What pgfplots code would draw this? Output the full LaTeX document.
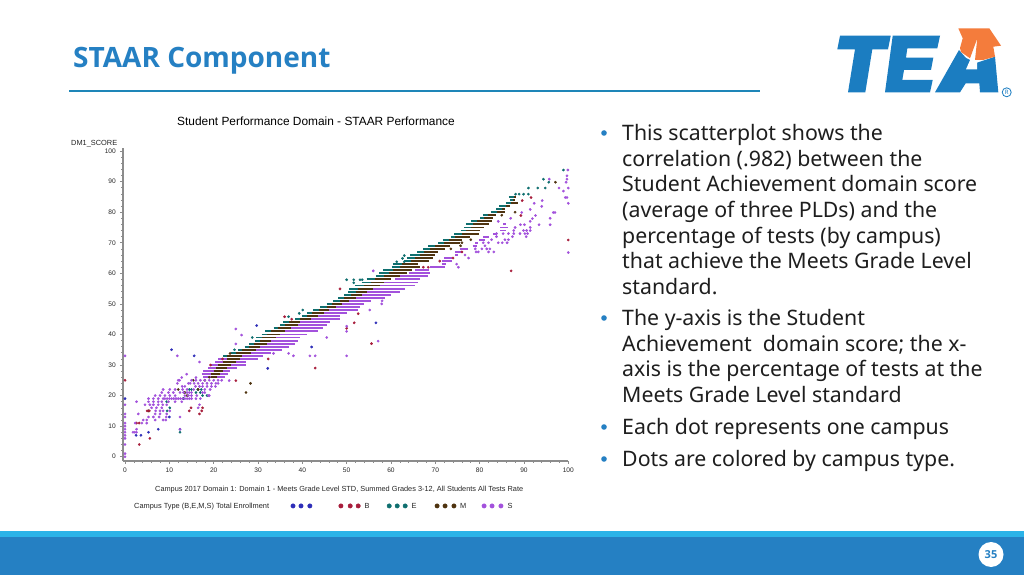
\documentclass[border=0pt]{standalone}
\usepackage{fontspec}
\setmainfont{Noto Sans}
\newfontfamily\chartfont{Liberation Sans}
\newfontfamily\headfont{Open Sans}
\usepackage{pgfplots}
\usepackage{pgfplotstable}
\pgfplotsset{compat=1.18}

\definecolor{slideblue}{HTML}{2580C3}
\definecolor{stripblue}{HTML}{2BB3E8}
\definecolor{rulecol}{HTML}{1E86B8}
\definecolor{logoorange}{HTML}{F47C3C}
\definecolor{logoblue}{HTML}{1B7DC1}
\definecolor{bodytext}{HTML}{1E1E1E}
\definecolor{axisgray}{HTML}{8C8C8C}
\definecolor{dotblue}{HTML}{2E2EB8}
\definecolor{dotred}{HTML}{A81E3C}
\definecolor{dotteal}{HTML}{0F6F6F}
\definecolor{dotbrown}{HTML}{4F3410}
\definecolor{dotpurple}{HTML}{A352DC}

% dense rows of the band: start and width of each colour's run on one score value
\pgfplotstableread{
y  ta    tw    ba    bw    pa    pw
33 22.2  0.8   23.0  3.5   24.0  7.2
34 24.0  1.0   25.0  3.5   27.0  6.0
35 25.5  1.0   26.5  3.0   29.0  6.5
36 27.0  1.0   28.0  2.5   30.0  6.9
37 28.0  1.0   29.0  3.0   31.0  7.4
38 29.3  1.2   30.5  2.5   32.0  7.0
39 29.6  1.4   31.0  3.0   33.0  6.5
40 30.8  1.2   32.0  3.0   34.0  7.0
41 31.6  1.4   33.0  3.0   35.0  8.6
42 33.5  1.0   34.5  3.0   37.0  7.7
43 35.0  1.0   36.0  3.0   38.0  7.5
44 35.7  1.3   37.0  2.5   39.0  7.3
45 38.4  1.1   39.5  2.5   41.0  7.5
46 39.9  1.1   41.0  2.5   43.0  5.5
47 41.0  1.2   42.2  2.8   44.0  6.0
48 42.5  1.2   43.7  2.3   45.5  7.1
49 44.0  1.5   45.5  2.0   47.0  6.0
50 45.5  1.3   46.8  2.2   48.5  5.5
51 47.0  1.5   48.5  2.0   50.0  5.5
52 48.1  1.4   49.5  2.5   51.5  7.1
53 49.5  1.5   51.0  2.5   53.0  7.0
54 50.4  1.6   52.0  2.5   54.0  8.0
55 50.6  1.9   52.5  3.5   55.5  7.7
56 51.9  2.1   54.0  3.5   57.0  8.4
57 53.4  2.1   55.5  3.0   58.0  8.0
58 54.5  2.0   56.5  3.5   61.0  5.5
59 56.6  1.9   58.5  3.5   62.0  6.4
60 57.4  2.1   59.5  4.0   64.0  4.8
61 58.3  2.2   60.5  4.2   65.5  3.0
62 60.2  1.8   62.0  4.5   68.8  3.4
63 60.4  2.1   62.5  3.7   71.4  1.1
64 63.0  1.5   64.5  4.0   71.4  2.3
65 63.5  2.0   65.5  4.0   72.0  1.7
66 64.4  2.1   66.5  3.4   74.4  0.8
67 65.9  1.6   67.5  3.2   74.4  1.9
68 67.3  1.5   68.8  3.4   75.5  1.9
69 68.4  1.6   70.0  3.3   78.4  1.1
70 70.7  1.3   72.0  3.6   79.0  0.6
71 71.7  1.3   73.0  3.0   79.9  1.3
72 73.5  1.0   74.5  3.3   80.8  1.2
73 74.3  1.7   76.0  3.9   83.0  1.0
74 75.7  1.3   77.0  3.0   84.6  1.3
75 76.5  1.5   78.0  3.0   84.7  1.8
76 76.9  1.6   78.5  3.5   85.3  0.6
}\bandrows

\pgfplotstableread{
y  ba    bw    pa    pw
26 19.5  1.3   17.7  4.9
27 19.5  2.0   17.3  6.0
28 20.0  2.0   17.7  6.0
29 20.5  2.5   18.8  6.4
30 21.0  3.0   19.5  7.9
31 22.0  3.0   20.3  7.1
32 23.0  3.0   21.0  9.0
}\lowrows

\pgfplotstableread{
y  ta    tw    ba    bw
77 78.0  1.5   79.5  3.2
78 80.1  0.9   81.0  1.9
79 80.7  1.1   81.8  2.0
80 82.5  1.5   84.0  1.7
81 83.8  1.2   85.0  0.7
82 84.4  1.6   86.0  0.8
83 85.9  1.1   87.0  1.6
84 86.8  0.7   87.5  0.5
85 86.6  1.2   87.8  0.5
}\toprows

\pgfplotsset{
    runs/.style 2 args={#1,line width=1.9pt,-,mark=none,forget plot,quiver={u=\thisrow{#2},v=0}},
    dots/.style={only marks,mark=*,mark size=1.15pt,#1,mark options={draw=none,fill=#1}},
    keydots/.style={only marks,mark=*,mark size=2.2pt,#1,mark options={draw=none,fill=#1}},
}

\newcommand\bodyline[2]{\node[anchor=base west,inner sep=0pt,font=\fontsize{21.3}{24}\selectfont,text=bodytext] at (622,#1) {#2};}
\newcommand\bodybullet[1]{\fill[slideblue] (604,#1) circle (2.8);}

\begin{document}
\begin{tikzpicture}
\useasboundingbox (0,0) rectangle (1024pt,575pt);
\fill[white] (0,0) rectangle (1024pt,575pt);

\begin{scope}[x=1pt,y=-1pt,yshift=575pt]
% slide frame
\fill[stripblue] (0,531) rectangle (1024,538);
\fill[slideblue] (0,537) rectangle (1024,575);
\fill[white] (991,554.5) circle (12.5);
\node[font=\headfont\bfseries\fontsize{11}{13}\selectfont,text=slideblue] at (991,554.5) {35};
\node[anchor=base west,inner sep=0pt,font=\headfont\bfseries\fontsize{28}{32}\selectfont,text=slideblue] at (73,68) {STAAR Component};
\fill[rulecol] (69,90) rectangle (760,92);

% logo
\fill[logoblue] (840,35.7) -- (890.7,35.7) -- (888,49.3) -- (872.3,49.3) -- (865.3,92.3) -- (848,92.3) -- (855,49.3) -- (837.3,49.3) -- cycle;
\fill[logoblue] (892.7,35.7) -- (940,35.7) -- (937.3,48.3) -- (907.3,48.3) -- (906,57.7) -- (933.3,57.7) -- (931,70) -- (904,70) -- (902.3,80) -- (932.7,80) -- (930,92.3) -- (885,92.3) -- cycle;
\fill[logoblue] (935,92.3) -- (959,50) -- (966,58) -- (976,63) -- (995,56.7) -- (998.3,92.3) -- (980,92.3) -- (979.3,83.3) -- (965.7,83.3) -- (960,92.3) -- cycle;
\fill[white] (966,69.3) -- (977,69.3) -- (977,58) -- (971,58) -- cycle;
\fill[logoorange] (958.3,28.3) -- (989.3,28.3) -- (1001,45.7) -- (993.3,46.7) -- (995,56.7) -- (983,60) -- (975,60) -- (977.3,38.3) -- (970,58.3) -- (961,52) -- (960,48) -- (962.7,38.3) -- cycle;
\draw[logoblue,line width=0.8pt] (1006.7,92.3) circle (4.5);
\node[font=\bfseries\fontsize{6}{7}\selectfont,text=logoblue,inner sep=0pt] at (1006.7,92.3) {R};

% bullet text
\bodybullet{133}
\bodyline{141}{This scatterplot shows the}
\bodyline{166.5}{correlation (.982) between the}
\bodyline{192}{Student Achievement domain score}
\bodyline{218}{(average of three PLDs) and the}
\bodyline{243.5}{percentage of tests (by campus)}
\bodyline{269}{that achieve the Meets Grade Level}
\bodyline{294.5}{standard.}
\bodybullet{318}
\bodyline{326}{The y-axis is the Student}
\bodyline{351.5}{Achievement\ \ domain score; the x-}
\bodyline{377}{axis is the percentage of tests at the}
\bodyline{403}{Meets Grade Level standard}
\bodybullet{427}
\bodyline{435}{Each dot represents one campus}
\bodybullet{459}
\bodyline{467}{Dots are colored by campus type.}

% chart texts
\node[font=\chartfont\fontsize{11.9}{13}\selectfont,anchor=base west,inner sep=0pt] at (177,126) {Student Performance Domain - STAAR Performance};
\node[font=\chartfont\fontsize{7.4}{9}\selectfont,anchor=base west,inner sep=0pt,text=black!85] at (71,145.5) {DM1\_SCORE};
\node[font=\chartfont\fontsize{7.36}{9}\selectfont,anchor=base west,inner sep=0pt,text=black!85] at (155,492) {Campus 2017 Domain 1: Domain 1 - Meets Grade Level STD, Summed Grades 3-12, All Students All Tests Rate};
\node[font=\chartfont\fontsize{7.4}{9}\selectfont,anchor=base west,inner sep=0pt,text=black!85] at (134,509) {Campus Type (B,E,M,S) Total Enrollment};
\node[font=\chartfont\fontsize{7.4}{9}\selectfont,anchor=base west,inner sep=0pt,text=black!85] at (364.5,509) {B};
\node[font=\chartfont\fontsize{7.4}{9}\selectfont,anchor=base west,inner sep=0pt,text=black!85] at (411.5,509) {E};
\node[font=\chartfont\fontsize{7.4}{9}\selectfont,anchor=base west,inner sep=0pt,text=black!85] at (460,509) {M};
\node[font=\chartfont\fontsize{7.4}{9}\selectfont,anchor=base west,inner sep=0pt,text=black!85] at (507.5,509) {S};
\end{scope}

\begin{axis}[
    at={(122.8pt,114pt)},
    anchor=south west,
    scale only axis,
    width=445.5pt,
    height=313pt,
    xmin=-0.5, xmax=100,
    ymin=-1.4, ymax=101,
    clip=false,
    axis lines=left,
    axis line style={-,axisgray,line width=1.5pt},
    xtick={0,10,...,100},
    ytick={0,10,...,100},
    minor tick num=4,
    tick align=outside,
    tick style={axisgray,line width=0.6pt},
    major tick length=3pt,
    minor tick length=1.8pt,
    tick label style={font=\chartfont\fontsize{6.6}{8}\selectfont,text=black!85},
    /pgf/number format/assume math mode=true,
    xticklabel style={yshift=-0.5pt},
    yticklabel style={xshift=-0.5pt},
]
% dense rows
\addplot[runs={dotteal}{tw}] table[x=ta,y=y] {\bandrows};
\addplot[runs={dotteal}{tw}] table[x=ta,y=y] {\toprows};
\addplot[runs={dotpurple}{pw}] table[x=pa,y=y] {\lowrows};
\addplot[runs={dotpurple}{pw}] table[x=pa,y=y] {\bandrows};
\addplot[runs={dotbrown}{bw}] table[x=ba,y=y] {\lowrows};
\addplot[runs={dotbrown}{bw}] table[x=ba,y=y] {\bandrows};
\addplot[runs={dotbrown}{bw}] table[x=ba,y=y] {\toprows};
% scattered campuses
\addplot[dots=dotteal] coordinates {
(12.4,8) (98.9,93.8) (94.4,90.8) (95.6,89.8) (91,87.9) (93.1,87.9) (94.8,87.9)
(88.1,85.9) (88.9,85.9) (89.9,85.9) (91,85.9) (50,57.9) (51.6,57.9) (51.6,56.9)
(53,57.9) (53.5,57.9) (61.3,63.8) (63,65.8) (63,63.8) (62.6,64.9) (24.7,35)
(28.7,39) (36.9,45.8) (39.3,46.9) (40.1,48) (9.4,18) (10.1,16) (9.5,15) (16,21)
(17,21) (17.5,20) (18.5,20) (13.2,19) (14.5,22) (15,22) (16.4,22) (17.2,22)
};
\addplot[dots=dotbrown] coordinates {
(27.3,21) (28.3,24) (23.7,33.8) (97.1,89.8) (12,22) (15.4,25) (5.3,15) (16.5,22)
(18,25) (19,26) (13.5,21) (14,20) (73.5,68) (75.7,69) (78,71) (76,70) (88,80) (85,79)
};
\addplot[dots=dotred] coordinates {
(0,25) (3.2,4) (5.6,6) (2.6,11) (3.2,11) (5,15) (5.5,15) (14.5,15) (14.9,16) (16.8,14)
(17.3,15) (17.5,16) (19.3,30) (22,32) (25,24.9) (32.3,32) (42.9,29) (51.7,43.8) (50,42)
(52.6,46.8) (55.6,37) (36,45.8) (37.6,45) (48.5,54.9) (67.3,62) (68.4,62) (89.6,83.8)
(89.3,78.9) (91.6,84.8) (87.1,60.8) (100,70.9) (76,67) (74,65) (71,64)
};
\addplot[dots=dotblue] coordinates {
(10.5,35) (15.6,33) (0,19) (42.1,35.9) (32.2,28.9) (29.7,42.9) (7.5,9) (5.3,8) (2.5,7)
(3.6,7) (56.6,43.8) (10,13) (12.4,9)
};
\addplot[dots=dotpurple] coordinates {
(0,33) (0,17) (0,14) (0,13) (0,11) (0,10) (0,9) (0,8) (0,7) (0,6) (0,4) (0,1) (0,0)
(11.8,33) (16.8,31) (13.9,27) (12.8,25.9) (16,25.9) (12,25) (12.3,25)
(15,25) (16,25) (17,25) (18,25) (19,25) (20,25) (21,25) (21.8,25)
(11.8,24) (14.3,24) (14.7,24) (15.6,24) (16.5,24) (17.5,24) (18.5,24) (19.5,24) (20.5,24) (21,24)
(12.9,23) (13.5,23) (15.9,23) (16.8,23) (17.5,23) (18.5,23) (19.5,23) (20.4,23)
(8.6,22) (10.1,22) (11.3,22) (13,22) (14,22) (15.5,22) (18,22) (19.2,22)
(8.3,21) (9.8,21) (10.9,21) (12.4,21) (13.2,21) (14,21) (14.5,21) (15,21) (17.5,21) (18,21)
(6.8,20) (7.9,20) (9,20) (10.1,20) (11.3,20) (13.5,20) (14.3,20) (15,20) (16.2,20) (18.8,20) (19,20)
(5.3,19) (6.4,19) (7.5,19) (8.6,19) (9,19) (9.5,19) (10,19) (10.5,19) (11,19) (11.5,19) (12,19)
(12.5,19) (13,19) (13.5,19) (14,19) (14.5,19) (15,19) (16,19) (17,19)
(2.6,18) (5.3,18) (6.4,18) (7.5,18) (8.3,18) (9.8,18) (11.3,18) (12.8,18)
(4.5,17) (5.6,17) (6.4,17) (7.5,17) (8.5,17) (9.4,17) (16.8,17)
(6,16) (7.1,16) (8.3,16) (16.5,16)
(6.9,15) (7.9,15) (8.6,15) (10.1,15)
(3,14) (6.8,14) (7.9,14) (9.4,14)
(5.3,13) (6.4,13) (7.7,13) (9.3,13) (12.4,13)
(4.1,12) (4.9,12) (6.8,12) (8.6,12) (9.2,12)
(2.3,11) (3.8,11) (4.9,11)
(2.6,9) (12.4,9) (1.8,8) (2.2,8) (2.6,8)
(25,41.8) (26.3,39.8) (25,36.9) (38,33) (41.7,33) (42.9,33) (50,33) (36.9,33.8) (33.5,33.8)
(23.5,24.9) (45.5,39) (50,42.7) (57.1,37.8) (55.2,48) (57.9,50) (58,51) (50,41) (56,60.8)
(99.9,93.8) (99.7,91.9) (99.7,90.8) (99.5,89.8) (95.7,90.8) (97.9,87.9) (100,87.9) (98.9,86.9)
(99.3,84.8) (99.7,84.8) (100,82.9) (94.1,83.8) (92.3,82.9) (94,81.9) (91.4,80.9) (92.6,78.9)
(89.5,79.9) (96.6,79.9) (97,79.9) (95.9,78) (95.9,75.9) (93.4,75.9) (91.9,77.9) (91.4,77)
(87,78) (84.2,77) (89.2,75.9) (90.1,75.9) (88,75) (91.4,75) (87.7,74) (89.9,74) (90.6,74) (91.4,74)
(83.8,73) (85.3,73) (86.5,73) (87.7,73) (89.1,73) (90.2,73) (90.8,73)
(83.8,72) (87.4,72) (90.5,72) (82.7,71) (85.7,71) (86.5,71)
(80.8,70) (82,70) (84.2,70) (85.1,70) (86.2,70) (81.2,69)
(79,68) (80.5,68) (81.6,68) (82.3,68) (79.2,67) (79.7,67) (82,67) (83.2,67) (100,66.8)
(76.7,66) (77.5,65) (75.2,62) (74.8,63)
};
% campus type key under the axis
\addplot[keydots=dotblue] coordinates {(37.9,-16.1) (39.7,-16.1) (41.7,-16.1)};
\addplot[keydots=dotred] coordinates {(48.7,-16.1) (50.8,-16.1) (52.6,-16.1)};
\addplot[keydots=dotteal] coordinates {(59.6,-16.1) (61.4,-16.1) (63.2,-16.1)};
\addplot[keydots=dotbrown] coordinates {(70.4,-16.1) (72.2,-16.1) (74.2,-16.1)};
\addplot[keydots=dotpurple] coordinates {(81,-16.1) (82.8,-16.1) (84.8,-16.1)};
\end{axis}
\end{tikzpicture}
\end{document}
